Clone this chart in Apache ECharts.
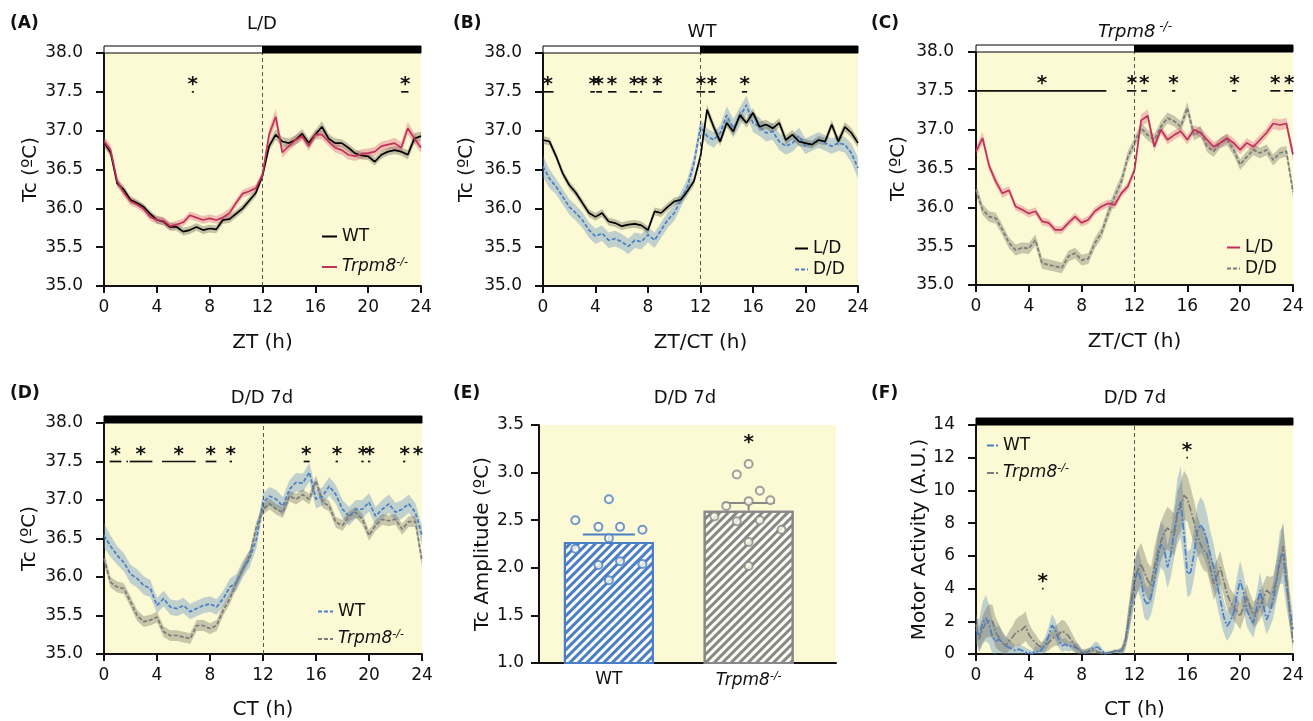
<!DOCTYPE html>
<html>
<head>
<meta charset="utf-8">
<title>Tc rhythms</title>
<script src="https://cdn.jsdelivr.net/npm/echarts@6/dist/echarts.min.js"></script>
<style>
  html, body { margin: 0; padding: 0; background: #fff; }
  #chart { width: 1313px; height: 721px; }
</style>
</head>
<body>
<div id="chart"></div>
<script>
// time grids (h)
const halfHours = [0,0.5,1,1.5,2,2.5,3,3.5,4,4.5,5,5.5,6,6.5,7,7.5,8,8.5,9,9.5,10,10.5,11,11.5,
  12,12.5,13,13.5,14,14.5,15,15.5,16,16.5,17,17.5,18,18.5,19,19.5,20,20.5,21,21.5,22,22.5,23,23.5,24]
const quarterHours = [0,0.25,0.5,0.75,1,1.25,1.5,1.75,2,2.25,2.5,2.75,3,3.25,3.5,3.75,4,4.25,4.5,4.75,
  5,5.25,5.5,5.75,6,6.25,6.5,6.75,7,7.25,7.5,7.75,8,8.25,8.5,8.75,9,9.25,9.5,9.75,10,10.25,10.5,10.75,
  11,11.25,11.5,11.75,12,12.25,12.5,12.75,13,13.25,13.5,13.75,14,14.25,14.5,14.75,15,15.25,15.5,15.75,
  16,16.25,16.5,16.75,17,17.25,17.5,17.75,18,18.25,18.5,18.75,19,19.25,19.5,19.75,20,20.25,20.5,20.75,
  21,21.25,21.5,21.75,22,22.25,22.5,22.75,23,23.25,23.5,23.75,24]

// light / dark phases [start, end, dark]
const ldPhases = [[0, 12, 0], [12, 24, 1]]
const ddPhases = [[0, 24, 1]]

// (A) L/D, WT vs Trpm8-/-
const aWtTc = [36.85,36.72,36.32,36.24,36.11,36.07,36.02,35.93, 35.85,35.83,35.76,35.76,35.70,35.72,35.76,35.72,
  35.74,35.73,35.85,35.86,35.93,36.00,36.10,36.20, 36.42,36.80,36.95,36.86,36.84,36.88,36.96,36.84,
  36.95,37.05,36.90,36.84,36.84,36.78,36.71,36.68, 36.67,36.60,36.69,36.73,36.75,36.73,36.69,36.90, 36.93]
const aWtSem = [0.05,0.06,0.05,0.05,0.05,0.04,0.04,0.04, 0.05,0.05,0.05,0.05,0.05,0.05,0.05,0.05,
  0.05,0.05,0.05,0.05,0.05,0.05,0.05,0.05, 0.05,0.06,0.07,0.06,0.06,0.06,0.06,0.06,
  0.06,0.07,0.06,0.06,0.05,0.05,0.05,0.05, 0.05,0.05,0.05,0.05,0.05,0.05,0.06,0.07, 0.06]
const aKoTc = [36.86,36.75,36.35,36.20,36.09,36.05,35.99,35.89, 35.85,35.84,35.77,35.79,35.82,35.91,35.88,35.85,
  35.87,35.85,35.88,35.94,36.07,36.19,36.22,36.26, 36.43,36.95,37.18,36.72,36.80,36.88,36.93,36.80,
  36.95,36.95,36.86,36.78,36.75,36.69,36.67,36.70, 36.71,36.73,36.80,36.82,36.84,36.78,37.03,36.90, 36.78]
const aKoSem = [0.06,0.07,0.06,0.05,0.05,0.05,0.05,0.05, 0.05,0.05,0.05,0.05,0.05,0.05,0.05,0.05,
  0.05,0.05,0.06,0.06,0.05,0.05,0.05,0.05, 0.06,0.08,0.10,0.07,0.06,0.06,0.06,0.06,
  0.06,0.06,0.06,0.06,0.06,0.06,0.06,0.06, 0.06,0.06,0.06,0.06,0.07,0.07,0.08,0.07, 0.07]
const aSigBars = [[6.65, 6.8, 37.5], [22.5, 23.05, 37.5]]
const aStars = [[6.72, 37.5], [22.8, 37.5]]

// (B) WT, L/D vs D/D
const bLdTc = [36.88,36.86,36.67,36.45,36.30,36.20,36.07,35.94, 35.89,35.94,35.83,35.81,35.77,35.79,35.80,35.78,
  35.72,35.96,35.94,36.02,36.09,36.11,36.22,36.35, 36.67,37.27,37.05,36.86,37.10,36.99,37.20,37.10,
  37.23,37.05,37.08,37.03,37.10,36.88,36.95,36.86, 36.84,36.82,36.88,36.86,37.08,36.86,37.05,36.97, 36.84]
const bLdSem = [0.05,0.05,0.05,0.05,0.05,0.05,0.05,0.05, 0.05,0.05,0.05,0.05,0.05,0.05,0.05,0.05,
  0.05,0.05,0.05,0.05,0.05,0.05,0.05,0.06, 0.06,0.07,0.06,0.06,0.06,0.06,0.06,0.06,
  0.06,0.06,0.06,0.06,0.06,0.06,0.06,0.06, 0.05,0.05,0.05,0.05,0.06,0.06,0.06,0.06, 0.06]
const bDdTc = [36.54,36.38,36.28,36.15,36.02,35.94,35.85,35.72, 35.64,35.68,35.59,35.61,35.57,35.51,35.59,35.57,
  35.66,35.59,35.72,35.85,35.94,36.11,36.28,36.58, 37.05,36.93,36.88,36.97,37.20,37.03,37.18,37.33,
  37.10,37.05,36.97,36.99,36.86,36.80,36.84,36.93, 36.80,36.84,36.88,36.84,36.80,36.84,36.82,36.71, 36.52]
const bDdSem = [0.14,0.12,0.10,0.10,0.10,0.10,0.10,0.10, 0.10,0.10,0.10,0.10,0.10,0.10,0.10,0.10,
  0.10,0.10,0.10,0.10,0.10,0.10,0.10,0.10, 0.10,0.10,0.10,0.10,0.11,0.12,0.12,0.12,
  0.12,0.12,0.11,0.11,0.11,0.11,0.11,0.11, 0.10,0.10,0.10,0.10,0.10,0.10,0.10,0.12, 0.14]
const bSigBars = [[0, 0.8, 37.5], [3.6, 3.95, 37.5], [4.05, 4.5, 37.5], [4.95, 5.6, 37.5], [6.6, 7.2, 37.5],
  [7.4, 7.55, 37.5], [8.4, 9.05, 37.5], [11.7, 12.35, 37.5], [12.6, 13.1, 37.5], [15.15, 15.55, 37.5]]
const bStars = [[0.36, 37.5], [3.86, 37.5], [4.24, 37.5], [5.26, 37.5], [6.96, 37.5], [7.57, 37.5],
  [8.71, 37.5], [12.04, 37.5], [12.88, 37.5], [15.37, 37.5]]

// (C) Trpm8-/-, L/D vs D/D
const cLdTc = [36.72,36.89,36.53,36.33,36.18,36.22,36.01,35.97, 35.92,35.95,35.82,35.80,35.71,35.71,35.80,35.88,
  35.80,35.84,35.95,36.01,36.05,36.03,36.18,36.27, 36.48,37.12,37.18,36.78,37.00,36.87,36.93,36.98,
  36.87,37.00,36.96,36.87,36.78,36.83,36.89,36.83, 36.74,36.83,36.78,36.87,36.96,37.08,37.06,37.08, 36.68]
const cLdSem = [0.06,0.08,0.06,0.06,0.06,0.05,0.05,0.05, 0.05,0.05,0.05,0.05,0.05,0.05,0.05,0.05,
  0.05,0.05,0.05,0.05,0.05,0.05,0.05,0.05, 0.06,0.08,0.08,0.06,0.06,0.06,0.06,0.06,
  0.06,0.06,0.06,0.06,0.06,0.06,0.06,0.06, 0.06,0.06,0.06,0.06,0.06,0.07,0.07,0.07, 0.08]
const cDdTc = [36.23,35.97,35.88,35.86,35.71,35.54,35.45,35.48, 35.47,35.58,35.28,35.26,35.24,35.22,35.37,35.41,
  35.32,35.34,35.54,35.67,35.92,36.14,36.33,36.65, 36.83,37.02,36.93,36.87,37.04,37.15,37.11,37.04,
  37.28,36.93,36.98,36.78,36.72,36.83,36.87,36.74, 36.55,36.65,36.74,36.70,36.74,36.61,36.70,36.72, 36.20]
const cDdSem = [0.07,0.07,0.07,0.07,0.07,0.07,0.07,0.07, 0.07,0.07,0.07,0.07,0.07,0.07,0.07,0.07,
  0.07,0.07,0.07,0.07,0.08,0.08,0.08,0.08, 0.07,0.07,0.07,0.07,0.07,0.07,0.07,0.07,
  0.08,0.07,0.07,0.07,0.07,0.07,0.07,0.07, 0.07,0.07,0.07,0.07,0.07,0.07,0.07,0.07, 0.08]
const cSigBars = [[0, 9.87, 37.5], [11.43, 12.14, 37.5], [12.5, 12.95, 37.5], [14.84, 15.09, 37.5],
  [19.38, 19.71, 37.5], [22.28, 23.04, 37.5], [23.34, 24, 37.5]]
const cStars = [[5.0, 37.5], [11.8, 37.5], [12.74, 37.5], [14.96, 37.5], [19.56, 37.5], [22.66, 37.5], [23.72, 37.5]]

// (D) D/D 7d, WT vs Trpm8-/-
const dWtTc = [36.54,36.40,36.28,36.19,36.04,35.98,35.89,35.85, 35.63,35.72,35.61,35.59,35.63,35.55,35.59,35.63,
  35.65,35.61,35.72,35.87,35.93,36.11,36.24,36.49, 36.97,37.05,37.01,36.92,37.14,37.23,37.22,37.36,
  37.01,37.05,37.18,37.07,36.88,36.79,36.88,36.88, 36.97,36.79,36.88,36.95,36.84,36.88,36.95,36.84, 36.54]
const dWtSem = [0.16,0.14,0.12,0.12,0.12,0.12,0.12,0.11, 0.10,0.10,0.10,0.10,0.10,0.10,0.10,0.10,
  0.10,0.10,0.10,0.11,0.11,0.11,0.11,0.12, 0.12,0.12,0.12,0.12,0.12,0.12,0.12,0.12,
  0.12,0.12,0.12,0.12,0.12,0.12,0.12,0.12, 0.12,0.12,0.12,0.12,0.12,0.12,0.12,0.12, 0.12]
const dKoTc = [36.24,35.93,35.87,35.85,35.68,35.50,35.42,35.44, 35.48,35.29,35.24,35.24,35.22,35.20,35.37,35.37,
  35.33,35.37,35.57,35.72,35.93,36.11,36.28,36.65, 36.88,36.95,36.88,36.84,37.05,37.01,37.07,37.01,
  37.25,36.97,36.92,36.71,36.67,36.79,36.84,36.75, 36.54,36.67,36.75,36.73,36.75,36.62,36.72,36.72, 36.21]
const dKoSem = [0.08,0.07,0.07,0.07,0.07,0.07,0.07,0.07, 0.07,0.07,0.07,0.07,0.07,0.07,0.07,0.07,
  0.07,0.07,0.07,0.07,0.07,0.07,0.07,0.07, 0.07,0.07,0.07,0.07,0.07,0.07,0.07,0.07,
  0.07,0.07,0.07,0.07,0.07,0.07,0.07,0.07, 0.07,0.07,0.07,0.07,0.07,0.07,0.07,0.07, 0.08]
const dSigBars = [[0.43, 1.31, 37.5], [1.69, 1.81, 37.5], [1.94, 3.65, 37.5], [4.38, 6.92, 37.5], [7.67, 8.48, 37.5],
  [9.48, 9.66, 37.5], [15.07, 15.52, 37.5], [17.48, 17.66, 37.5], [19.42, 19.6, 37.5], [19.92, 20.1, 37.5],
  [22.57, 22.74, 37.5]]
const dStars = [[0.88, 37.5], [2.77, 37.5], [5.64, 37.5], [8.05, 37.5], [9.56, 37.5], [15.27, 37.5],
  [17.58, 37.5], [19.55, 37.5], [20.05, 37.5], [22.69, 37.5], [23.7, 37.5]]

// (E) Tc amplitude, D/D 7d
const ampGroups = ['WT', 'Trpm8-/-']
const ampMean = [2.27, 2.60]
const ampSem = [0.08, 0.08]
const wtAmp = [2.50, 2.43, 2.72, 2.43, 2.40, 2.20, 2.03, 2.31, 1.87, 2.07, 2.04]
const wtJitter = [-0.48, -0.15, 0, 0.16, 0.48, -0.48, -0.15, 0, 0, 0.16, 0.48]
const koAmp = [2.54, 2.65, 2.98, 2.49, 3.09, 2.70, 2.27, 2.02, 2.81, 2.50, 2.71, 2.40]
const koJitter = [-0.49, -0.32, -0.17, -0.17, 0, 0, 0, 0, 0.16, 0.16, 0.31, 0.47]
const eStars = [[3, 3.24]]

// (F) motor activity, D/D 7d
const fWtAct = [1.5,1.1,1.9,2.2, 1.8,1.0,0.8,0.9, 0.7,0.5,0.4,0.3, 0.2,0.3,0.2,0.1, 0.1,0.0,0.2,0.1,
  0.3,0.6,1.1,1.75, 1.5,0.9,0.5,0.6, 0.45,0.5,0.4,0.3, 0.1,0.05,0.15,0.3, 0.45,0.4,0.2,0.05,
  0.05,0.1,0.2,0.15, 0.2,0.5,1.7,3.0, 4.3,5.2,4.5,3.3, 3.0,3.5,4.5,5.8, 6.7,6.4,5.3,6.1,
  7.5,8.7,9.3,7.3, 4.9,5.0,6.1,7.5, 7.9,7.6,6.9,6.0, 5.3,4.3,3.3,2.3, 1.7,2.0,2.5,3.6,
  4.5,3.8,2.7,2.2, 1.9,2.8,3.9,3.0, 2.1,2.6,3.3,4.5, 5.9,6.1,4.3,2.8, 1.5]
const fWtSem = [0.8,1.0,1.3,1.4, 1.2,1.0,0.9,0.8, 0.7,0.6,0.5,0.4, 0.3,0.3,0.3,0.3, 0.2,0.2,0.3,0.3,
  0.4,0.5,0.6,0.7, 0.6,0.5,0.4,0.4, 0.3,0.3,0.3,0.3, 0.2,0.2,0.2,0.2, 0.3,0.3,0.2,0.1,
  0.1,0.1,0.1,0.1, 0.2,0.4,0.8,1.0, 1.2,1.3,1.2,1.1, 1.0,1.1,1.2,1.3, 1.4,1.4,1.3,1.4,
  1.6,2.0,2.2,1.8, 1.4,1.4,1.5,1.6, 1.7,1.7,1.6,1.5, 1.4,1.3,1.2,1.0, 0.9,0.9,1.0,1.1,
  1.2,1.1,1.0,0.9, 0.9,1.0,1.1,1.0, 0.9,1.0,1.1,1.3, 1.6,1.8,1.5,1.1, 0.9]
const fKoAct = [1.8,0.9,1.5,1.9, 2.05,2.0,1.3,1.0, 0.7,0.5,0.8,1.0, 1.3,1.4,1.5,1.7, 1.2,0.9,0.7,0.5,
  0.4,0.5,0.7,0.9, 1.1,1.2,1.4,1.3, 1.1,0.8,0.5,0.3, 0.1,0.1,0.15,0.2, 0.2,0.1,0.05,0.0,
  0.05,0.1,0.15,0.2, 0.2,0.6,1.8,3.2, 4.5,5.1,5.5,5.0, 4.5,4.2,5.3,6.2, 6.9,7.4,7.7,7.5,
  7.3,8.5,9.0,9.7, 9.5,8.8,8.1,7.3, 6.7,6.3,6.1,5.2, 4.3,4.8,5.3,4.5, 3.7,3.2,2.9,2.6,
  2.3,2.9,3.5,2.9, 2.4,2.6,2.9,3.4, 3.9,3.7,3.8,4.6, 5.5,6.6,4.7,2.6, 0.7]
const fKoSem = [0.7,0.7,0.8,0.9, 1.0,1.0,0.9,0.8, 0.6,0.5,0.6,0.7, 0.8,0.9,0.9,0.9, 0.7,0.6,0.5,0.4,
  0.3,0.4,0.5,0.5, 0.6,0.7,0.7,0.7, 0.6,0.5,0.4,0.3, 0.2,0.2,0.2,0.2, 0.2,0.1,0.1,0.1,
  0.1,0.1,0.1,0.1, 0.2,0.4,0.8,1.0, 1.2,1.3,1.3,1.2, 1.1,1.1,1.2,1.2, 1.2,1.2,1.3,1.3,
  1.3,1.4,1.5,1.5, 1.4,1.4,1.3,1.2, 1.2,1.2,1.1,1.0, 1.0,1.0,1.0,0.9, 0.9,0.8,0.8,0.8,
  0.8,0.8,0.8,0.8, 0.8,0.8,0.8,0.9, 0.9,1.0,1.0,1.1, 1.3,1.5,1.2,0.9, 0.6]
const fSigBars = [[5.0, 5.1, 4.0], [15.93, 16.03, 12.0]]
const fStars = [[5.05, 4.0], [15.97, 12.0]]

const FONT = 'DejaVu Sans'
const INK = '#111'
const PAPER = '#fcfad5'
const RED = '#c2305a'
const BLUE = '#4a7ec6'
const GREY = '#7b7b7b'

const rich = {
  it: { fontStyle: 'italic', fontSize: 17, fontFamily: FONT, color: INK },
  sup: { fontStyle: 'italic', fontSize: 11, fontFamily: FONT, color: INK, verticalAlign: 'top', lineHeight: 20 }
}
const KO_LABEL = '{it|Trpm8}{sup|-/-}'
const legendText = {
  A_WT: 'WT', A_KO: KO_LABEL, B_LD: 'L/D', B_DD: 'D/D', C_LD: 'L/D', C_DD: 'D/D',
  D_WT: 'WT', D_KO: KO_LABEL, F_WT: 'WT', F_KO: KO_LABEL
}

const grids = []
const xAxes = []
const yAxes = []
const series = []
const legends = []
const texts = []

const axisLine = { show: true, lineStyle: { color: INK, width: 2 } }
const nameTextStyle = { color: INK, fontSize: 20, fontFamily: FONT }
const labelStyle = { color: INK, fontSize: 17, fontFamily: FONT }

// one panel = one grid with its own axes
function addGrid(p) {
  const g = grids.length
  grids.push({ left: p.left, top: p.top, width: p.width, height: p.height, show: true, backgroundColor: PAPER, borderWidth: 0 })
  xAxes.push({
    gridIndex: g, type: 'value', min: p.xMin, max: p.xMax, interval: p.xStep,
    name: p.xName, nameLocation: 'middle', nameGap: p.xGap, nameTextStyle,
    axisLine, axisTick: { show: p.xTicks, length: 7, lineStyle: { color: INK, width: 2 } },
    axisLabel: { ...labelStyle, margin: p.xMargin, formatter: p.xFmt, rich },
    splitLine: { show: false }
  })
  yAxes.push({
    gridIndex: g, type: 'value', min: p.yMin, max: p.yMax, interval: p.yStep, offset: p.yOffset,
    name: p.yName, nameLocation: 'middle', nameGap: p.yGap, nameTextStyle,
    axisLine, axisTick: { show: true, length: 8, lineStyle: { color: INK, width: 2 } },
    axisLabel: { ...labelStyle, margin: 15, formatter: p.yFmt },
    splitLine: { show: false }
  })
  return g
}

// mean +/- SEM ribbon as one polygon, points placed through the axis scales
function addBand(g, hours, vals, sems, color, floor) {
  const rows = vals.map((v, i) => [hours[i], Math.max(floor, v - sems[i]), v + sems[i]])
  series.push({
    type: 'custom', xAxisIndex: g, yAxisIndex: g, silent: true, z: 1,
    data: rows,
    encode: { x: 0, y: [1, 2] },
    renderItem: (params, api) => {
      if (params.dataIndex !== 0) return null
      const upper = rows.map((r) => api.coord([r[0], r[2]]))
      const lower = rows.map((r) => api.coord([r[0], r[1]])).reverse()
      return { type: 'polygon', shape: { points: upper.concat(lower) }, style: { fill: color } }
    }
  })
}

function addLine(g, key, hours, vals, color, dash) {
  series.push({
    name: key, type: 'line', xAxisIndex: g, yAxisIndex: g,
    data: vals.map((v, i) => [hours[i], v]),
    symbol: 'none', silent: true, z: 3,
    itemStyle: { color },
    lineStyle: { color, width: 1.7, type: dash }
  })
}

// dashed line at ZT/CT 12
function addMidline(g) {
  series.push({
    type: 'line', xAxisIndex: g, yAxisIndex: g, data: [], silent: true, z: 2,
    markLine: {
      silent: true, symbol: ['none', 'none'], label: { show: false },
      lineStyle: { color: '#555', type: [4, 3], width: 1 },
      data: [{ xAxis: 12 }]
    }
  })
}

function addPhotoperiod(g, phases, yTop) {
  series.push({
    type: 'custom', xAxisIndex: g, yAxisIndex: g, silent: true, clip: false, z: 6,
    data: phases,
    renderItem: (params, api) => {
      const a = api.coord([api.value(0), yTop])
      const b = api.coord([api.value(1), yTop])
      const dark = api.value(2) === 1
      return {
        type: 'rect',
        shape: { x: a[0], y: a[1] - 7, width: b[0] - a[0], height: 7 },
        style: { fill: dark ? '#000' : '#fff', stroke: '#000', lineWidth: 1 }
      }
    }
  })
}

function addSig(g, bars, stars) {
  series.push({
    type: 'custom', xAxisIndex: g, yAxisIndex: g, silent: true, clip: false, z: 6,
    data: bars,
    renderItem: (params, api) => {
      const a = api.coord([api.value(0), api.value(2)])
      const b = api.coord([api.value(1), api.value(2)])
      return {
        type: 'line',
        shape: { x1: a[0], y1: a[1], x2: Math.max(b[0], a[0] + 1.5), y2: a[1] },
        style: { stroke: INK, lineWidth: 1.7 }
      }
    }
  })
  series.push({
    type: 'custom', xAxisIndex: g, yAxisIndex: g, silent: true, clip: false, z: 6,
    data: stars,
    renderItem: (params, api) => {
      const a = api.coord([api.value(0), api.value(1)])
      return {
        type: 'text', x: a[0], y: a[1] + 3,
        style: { text: '*', fill: INK, font: 'bold 20px "DejaVu Sans"', align: 'center', verticalAlign: 'bottom' }
      }
    }
  })
}

function addLegend(keys, left, top, gap, width) {
  legends.push({
    data: keys, left, top, orient: 'vertical', itemGap: gap, itemWidth: width, itemHeight: 12,
    selectedMode: false, formatter: (name) => legendText[name],
    itemStyle: { opacity: 0 },
    textStyle: { color: INK, fontSize: 17, fontFamily: FONT, rich }
  })
}

function addText(text, x, y, font, align, extra) {
  texts.push({
    type: 'text', x, y, silent: true,
    style: Object.assign({ text, font, fill: INK, align, verticalAlign: 'middle' }, extra || {})
  })
}

const tcFmt = (v) => v.toFixed(1)
const timeAxis = { xMin: 0, xMax: 24, xStep: 4, xTicks: true, xMargin: 13, yMin: 35, yMax: 38, yStep: 0.5, yFmt: tcFmt, yName: 'Tc (ºC)' }

// (A)
const gA = addGrid({ ...timeAxis, left: 104, top: 53, width: 317, height: 233, yOffset: 6, yGap: 53, xName: 'ZT (h)', xGap: 47 })
addBand(gA, halfHours, aWtTc, aWtSem, 'rgba(70,70,50,0.32)', -Infinity)
addBand(gA, halfHours, aKoTc, aKoSem, 'rgba(205,70,105,0.32)', -Infinity)
addMidline(gA)
addLine(gA, 'A_WT', halfHours, aWtTc, '#000', 'solid')
addLine(gA, 'A_KO', halfHours, aKoTc, RED, 'solid')
addPhotoperiod(gA, ldPhases, 38)
addSig(gA, aSigBars, aStars)
addLegend(['A_WT', 'A_KO'], 316, 223, 12, 15)

// (B)
const gB = addGrid({ ...timeAxis, left: 543, top: 53, width: 315, height: 233, yOffset: 6, yGap: 60, xName: 'ZT/CT (h)', xGap: 47 })
addBand(gB, halfHours, bDdTc, bDdSem, 'rgba(95,140,190,0.38)', -Infinity)
addBand(gB, halfHours, bLdTc, bLdSem, 'rgba(70,70,50,0.32)', -Infinity)
addMidline(gB)
addLine(gB, 'B_DD', halfHours, bDdTc, BLUE, [4, 2])
addLine(gB, 'B_LD', halfHours, bLdTc, '#000', 'solid')
addPhotoperiod(gB, ldPhases, 38)
addSig(gB, bSigBars, bStars)
addLegend(['B_LD', 'B_DD'], 789, 235, 4, 13)

// (C)
const gC = addGrid({ ...timeAxis, left: 976, top: 52, width: 317, height: 233, yOffset: 7, yGap: 60, xName: 'ZT/CT (h)', xGap: 47 })
addBand(gC, halfHours, cDdTc, cDdSem, 'rgba(100,100,85,0.35)', -Infinity)
addBand(gC, halfHours, cLdTc, cLdSem, 'rgba(205,70,105,0.32)', -Infinity)
addMidline(gC)
addLine(gC, 'C_DD', halfHours, cDdTc, GREY, [4, 2])
addLine(gC, 'C_LD', halfHours, cLdTc, RED, 'solid')
addPhotoperiod(gC, ldPhases, 38)
addSig(gC, cSigBars, cStars)
addLegend(['C_LD', 'C_DD'], 1221, 234, 4, 13)

// (D)
const gD = addGrid({ ...timeAxis, left: 104, top: 423, width: 318, height: 233, yOffset: 6, yGap: 58, xName: 'CT (h)', xGap: 46 })
addBand(gD, halfHours, dWtTc, dWtSem, 'rgba(95,140,190,0.38)', -Infinity)
addBand(gD, halfHours, dKoTc, dKoSem, 'rgba(100,100,85,0.35)', -Infinity)
addMidline(gD)
addLine(gD, 'D_WT', halfHours, dWtTc, BLUE, [4, 2])
addLine(gD, 'D_KO', halfHours, dKoTc, GREY, [4, 2])
addPhotoperiod(gD, ddPhases, 38)
addSig(gD, dSigBars, dStars)
addLegend(['D_WT', 'D_KO'], 312, 598, 9, 15)

// (E)
const gE = addGrid({
  left: 539, top: 425, width: 297, height: 238, yOffset: 0, yGap: 43, yName: 'Tc Amplitude (ºC)',
  xMin: 0, xMax: 4.25, xStep: 1, xTicks: false, xMargin: 8, yMin: 1, yMax: 3.5, yStep: 0.5, yFmt: tcFmt,
  xFmt: (v) => (v === 1 ? ampGroups[0] : v === 3 ? KO_LABEL : '')
})
const ampColors = [BLUE, '#888']
series.push({
  type: 'bar', xAxisIndex: gE, yAxisIndex: gE, barWidth: 90, silent: true, z: 2,
  data: ampMean.map((m, i) => ({
    value: [1 + 2 * i, m],
    itemStyle: {
      color: '#fffef2', borderColor: ampColors[i], borderWidth: 2,
      decal: { symbol: 'rect', symbolSize: 1, dashArrayX: [1, 0], dashArrayY: [3, 3], rotation: -Math.PI / 4, color: ampColors[i] }
    }
  }))
})
series.push({
  type: 'custom', xAxisIndex: gE, yAxisIndex: gE, silent: true, z: 4,
  data: ampMean.map((m, i) => [1 + 2 * i, m, ampSem[i]]),
  renderItem: (params, api) => {
    const base = api.coord([api.value(0), api.value(1)])
    const top = api.coord([api.value(0), api.value(1) + api.value(2)])
    const stroke = ampColors[params.dataIndex]
    return {
      type: 'group',
      children: [
        { type: 'line', shape: { x1: base[0], y1: base[1], x2: top[0], y2: top[1] }, style: { stroke, lineWidth: 2 } },
        { type: 'line', shape: { x1: top[0] - 26, y1: top[1], x2: top[0] + 26, y2: top[1] }, style: { stroke, lineWidth: 2 } }
      ]
    }
  }
})
series.push({
  type: 'scatter', xAxisIndex: gE, yAxisIndex: gE, silent: true, z: 5, symbolSize: 8,
  data: wtAmp.map((v, i) => [1 + wtJitter[i], v]),
  itemStyle: { color: '#fffde8', borderColor: BLUE, borderWidth: 2 }
})
series.push({
  type: 'scatter', xAxisIndex: gE, yAxisIndex: gE, silent: true, z: 5, symbolSize: 8,
  data: koAmp.map((v, i) => [3 + koJitter[i], v]),
  itemStyle: { color: '#fffde8', borderColor: '#888', borderWidth: 2 }
})
addSig(gE, [], eStars)

// (F)
const gF = addGrid({
  left: 976, top: 425, width: 317, height: 233, yOffset: 6, yGap: 39, yName: 'Motor Activity (A.U.)',
  xMin: 0, xMax: 24, xStep: 4, xTicks: true, xMargin: 13, yMin: 0, yMax: 14, yStep: 2, yFmt: (v) => String(v),
  xName: 'CT (h)', xGap: 46
})
addBand(gF, quarterHours, fWtAct, fWtSem, 'rgba(95,140,190,0.38)', 0)
addBand(gF, quarterHours, fKoAct, fKoSem, 'rgba(100,100,85,0.35)', 0)
addMidline(gF)
addLine(gF, 'F_WT', quarterHours, fWtAct, BLUE, [7, 2, 2, 2])
addLine(gF, 'F_KO', quarterHours, fKoAct, GREY, [7, 2, 2, 2])
addPhotoperiod(gF, ddPhases, 14)
addSig(gF, fSigBars, fStars)
addLegend(['F_WT', 'F_KO'], 981, 432, 9, 11)

// panel letters and titles
const letterFont = 'bold 17px "DejaVu Sans"'
const titleFont = '18px "DejaVu Sans"'
addText('(A)', 10, 24, letterFont, 'left')
addText('(B)', 453, 24, letterFont, 'left')
addText('(C)', 871, 24, letterFont, 'left')
addText('(D)', 10, 394, letterFont, 'left')
addText('(E)', 453, 394, letterFont, 'left')
addText('(F)', 871, 394, letterFont, 'left')
addText('L/D', 262, 24, titleFont, 'center')
addText('WT', 702, 32, titleFont, 'center')
addText('{it|Trpm8}{sup| -/-}', 1135, 32, titleFont, 'center', {
  rich: {
    it: { fontStyle: 'italic', fontSize: 18, fontFamily: FONT, color: INK },
    sup: { fontStyle: 'italic', fontSize: 12, fontFamily: FONT, color: INK, verticalAlign: 'top', lineHeight: 22 }
  }
})
addText('D/D 7d', 262, 398, titleFont, 'center')
addText('D/D 7d', 685, 398, titleFont, 'center')
addText('D/D 7d', 1135, 398, titleFont, 'center')

const chart = echarts.init(document.getElementById('chart'))
chart.setOption({
  animation: false,
  textStyle: { fontFamily: FONT },
  grid: grids,
  xAxis: xAxes,
  yAxis: yAxes,
  legend: legends,
  graphic: { elements: texts },
  series
})
</script>
</body>
</html>
